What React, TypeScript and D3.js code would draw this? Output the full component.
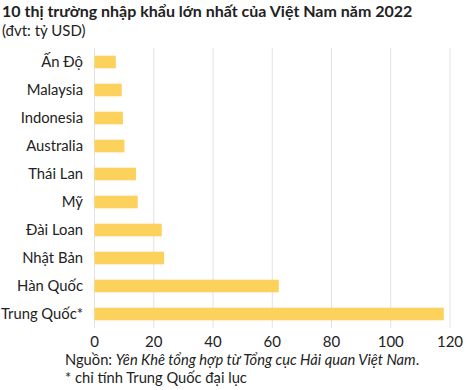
import React from 'react'
import * as d3 from 'd3'

const countries = ['Ấn Độ', 'Malaysia', 'Indonesia', 'Australia', 'Thái Lan', 'Mỹ', 'Đài Loan', 'Nhật Bản', 'Hàn Quốc', 'Trung Quốc*']
const values = [7.2, 9.2, 9.6, 10.1, 14.0, 14.6, 22.7, 23.5, 62.2, 117.9]
const ticks = [0, 20, 40, 60, 80, 100, 120]

const width = 474
const height = 390
const margin = { top: 48, right: 24, bottom: 62, left: 94.5 }
const font = 'Lato, "Open Sans", sans-serif'

export default function App() {
  const x = d3.scaleLinear().domain([0, 120]).range([margin.left, 450])
  const y = d3
    .scaleBand()
    .domain(countries)
    .range([margin.top, height - margin.bottom])
    .paddingInner(0.55)
    .paddingOuter(0.275)

  return (
    <svg
      width={width}
      height={height}
      style={{ position: 'absolute', left: 0, top: 0, background: '#fff' }}
      fontFamily={font}
    >
      <text x={2} y={17} fontSize={16} fontWeight="bold" fill="#222">
        10 thị trường nhập khẩu lớn nhất của Việt Nam năm 2022
      </text>
      <text x={2} y={36} fontSize={15} fill="#222">
        (đvt: tỷ USD)
      </text>

      {/* grid */}
      {ticks.map(t => (
        <line key={t} x1={x(t)} x2={x(t)} y1={margin.top} y2={height - margin.bottom} stroke="#e2e2e2" strokeWidth={1} />
      ))}

      {/* bars */}
      {countries.map((c, i) => (
        <rect key={c} x={x(0)} y={y(c)} width={x(values[i]) - x(0)} height={y.bandwidth()} fill="#fdd25c" />
      ))}

      {/* category labels */}
      {countries.map(c => (
        <text key={c} x={83} y={(y(c) as number) + y.bandwidth() / 2} dy="0.35em" textAnchor="end" fontSize={14.8} fill="#222">
          {c}
        </text>
      ))}

      {/* x ticks */}
      {ticks.map(t => (
        <text key={t} x={x(t)} y={347} textAnchor="middle" fontSize={15} fill="#222">
          {t}
        </text>
      ))}

      <text x={65} y={365} fontSize={14.7} fill="#222">
        Nguồn: <tspan fontStyle="italic">Yên Khê tổng hợp từ Tổng cục Hải quan Việt Nam</tspan>.
      </text>
      <text x={65} y={383} fontSize={14.7} fill="#222">
        * chỉ tính Trung Quốc đại lục
      </text>
    </svg>
  )
}
